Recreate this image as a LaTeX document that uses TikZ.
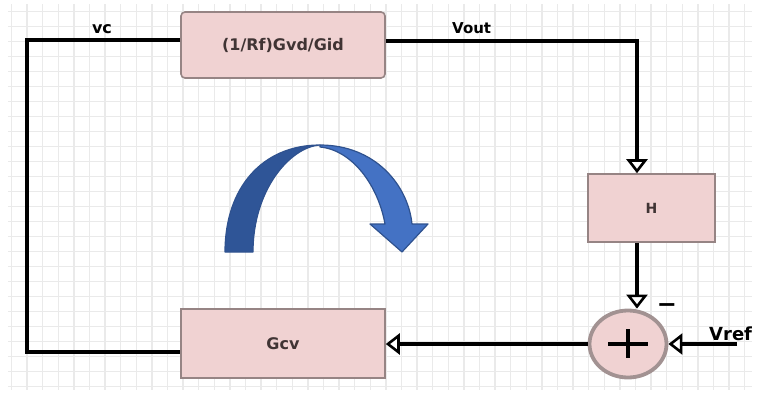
\documentclass[tikz,border=0pt]{standalone}
\usepackage{fontspec}
\setmainfont{DejaVu Sans}
\usetikzlibrary{arrows.meta,shapes.geometric}

\definecolor{boxfill}{RGB}{240,210,210}
\definecolor{boxline}{RGB}{150,132,132}
\definecolor{ringline}{RGB}{162,146,146}
\definecolor{boxtext}{RGB}{64,52,52}
\definecolor{gridgray}{RGB}{234,234,234}
\definecolor{bluedark}{RGB}{47,85,151}
\definecolor{bluelight}{RGB}{68,114,196}
\definecolor{blueline}{RGB}{47,82,143}

\begin{document}
\begin{tikzpicture}[x=1pt,y=-1pt,
  block/.style={draw=boxline, line width=1.6pt, fill=boxfill, inner sep=0pt,
    font=\bfseries\fontsize{16}{19}\selectfont, text=boxtext},
  wire/.style={line width=4pt},
  sig/.style={wire, -{Triangle[length=14pt,width=21pt,fill=white,line width=2.6pt]}},
  lbl/.style={font=\bfseries\fontsize{16}{19}\selectfont, inner sep=0pt},
  gridline/.style={draw=gridgray, line width=1.4pt},
  plusbar/.style={line width=3.4pt}
]
\useasboundingbox (0,0) rectangle (758,394);

% background grid
\begin{scope}
  \clip (8,4) rectangle (752,390);
  \foreach \i in {0,...,48} \draw[gridline] (11.5+15.6*\i,4) -- (11.5+15.6*\i,390);
  \foreach \j in {0,...,26} \draw[gridline] (8,11.7+15*\j) -- (752,11.7+15*\j);
\end{scope}

% blocks
\node[block, rounded corners=4pt, minimum width=204pt, minimum height=66pt] (fwd) at (283,45) {(1/Rf)Gvd/Gid};
\node[block, minimum width=204pt, minimum height=69pt] (gcv) at (283,343.5) {Gcv};
\node[block, minimum width=127pt, minimum height=68pt,
      font=\bfseries\fontsize{14}{17}\selectfont] (hbox) at (651.5,208) {H};
\node[ellipse, draw=ringline, line width=3.8pt, fill=boxfill,
      minimum width=77pt, minimum height=67pt, inner sep=0pt] (sum) at (628,344) {};
\draw[plusbar] ([xshift=-20pt]sum.center) -- ([xshift=20pt]sum.center);
\draw[plusbar] ([yshift=15pt]sum.center) -- ([yshift=-14pt]sum.center);

% wiring corners
\coordinate (cl) at (27,40);
\coordinate (cb) at (27,352);
\coordinate (cr) at (637,41);
\coordinate (vr) at (737,344);

\draw[wire] ([yshift=5pt]fwd.west) -- (cl) -- (cb) -- ([yshift=-8.5pt]gcv.west);
\draw[sig] ([yshift=4pt]fwd.east) -| (hbox.north -| cr);
\draw[sig] (hbox.south -| cr) -- (sum.north -| cr);
\draw[sig] (vr) -- (sum.east);
\draw[sig] (sum.west) -- (gcv.east |- sum.west);

% signal labels
\node[lbl, anchor=base] (vc) at (102,33) {vc};
\node[lbl, anchor=base west, font=\bfseries\fontsize{15}{18}\selectfont] (vout) at (452,33) {Vout};
\node[lbl, anchor=base west, font=\bfseries\fontsize{18}{21}\selectfont] (vref) at (709,340) {Vref};
\node[lbl, anchor=base, font=\bfseries\fontsize{24}{28}\selectfont] (minus) at (667,312) {−};

% loop direction arrow
\path[fill=bluedark, draw=blueline, line width=1.2pt, line join=round]
  (225,252) .. controls (225,188) and (262,145) .. (320,145)
  .. controls (290,147) and (253,190) .. (253,252) -- cycle;
\path[fill=bluelight, draw=blueline, line width=1.2pt, line join=round]
  (320,145) .. controls (375,145) and (408,185) .. (412,224)
  -- (428,224) -- (402,252) -- (370,224) -- (385,224)
  .. controls (378,185) and (352,150) .. (320,147) -- cycle;
\end{tikzpicture}
\end{document}
